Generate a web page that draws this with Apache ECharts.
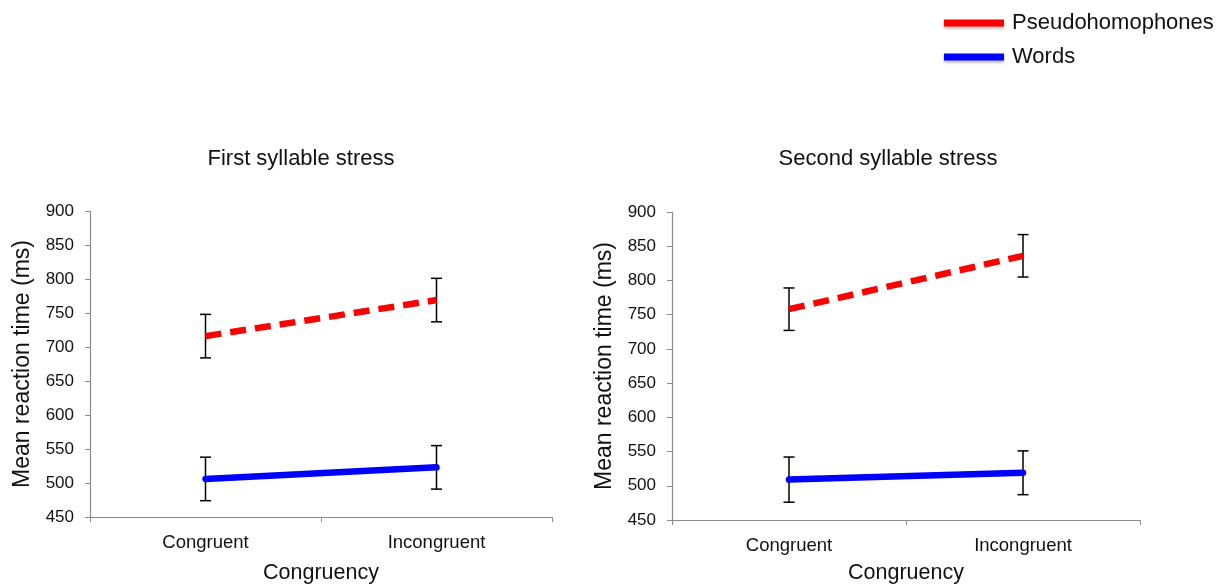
<!DOCTYPE html>
<html>
<head>
<meta charset="utf-8">
<script src="https://cdn.jsdelivr.net/npm/echarts@6/dist/echarts.min.js"></script>
<style>
  html, body { margin: 0; padding: 0; background: #fff; }
  #chart { width: 1222px; height: 587px; }
</style>
</head>
<body>
<div id="chart"></div>
<script>
// Congruency conditions on the x axis
const categories = ['Congruent', 'Incongruent'];
const panelTitles = ['First syllable stress', 'Second syllable stress'];

// Mean reaction times (ms) per panel
const pseudoFirst = [716, 769];
const wordsFirst = [506, 523];
const pseudoSecond = [758, 836];
const wordsSecond = [509, 519];

// Half-width of the error bars (ms)
const pseudoFirstErr = [32, 32];
const wordsFirstErr = [32, 32];
const pseudoSecondErr = [31, 31];
const wordsSecondErr = [33, 32];

const yTicks = { min: 450, max: 900, interval: 50 };

const FONT = '"Liberation Sans", Arial, sans-serif';
const RED = '#ff0000';
const BLUE = '#0000ff';
const TEXT = '#111';

function errData(means, errs) {
  return means.map((m, i) => [i, m - errs[i], m + errs[i]]);
}

function errorBarSeries(idx, means, errs) {
  return {
    type: 'custom',
    xAxisIndex: idx,
    yAxisIndex: idx,
    z: 1,
    silent: true,
    data: errData(means, errs),
    renderItem: function (params, api) {
      const lo = api.coord([api.value(0), api.value(1)]);
      const hi = api.coord([api.value(0), api.value(2)]);
      const w = 5.5;
      const style = { stroke: '#000', lineWidth: 1.5 };
      return {
        type: 'group',
        children: [
          { type: 'line', shape: { x1: lo[0], y1: lo[1], x2: hi[0], y2: hi[1] }, style: style },
          { type: 'line', shape: { x1: lo[0] - w, y1: lo[1], x2: lo[0] + w, y2: lo[1] }, style: style },
          { type: 'line', shape: { x1: hi[0] - w, y1: hi[1], x2: hi[0] + w, y2: hi[1] }, style: style }
        ]
      };
    }
  };
}

function pseudoSeries(idx, data) {
  return {
    name: 'Pseudohomophones',
    type: 'line',
    xAxisIndex: idx,
    yAxisIndex: idx,
    data: data,
    showSymbol: false,
    symbol: 'none',
    z: 3,
    lineStyle: { color: RED, width: 6.5, type: [16, 9], cap: 'butt' },
    itemStyle: { color: RED }
  };
}

function wordsSeries(idx, data) {
  return {
    name: 'Words',
    type: 'line',
    xAxisIndex: idx,
    yAxisIndex: idx,
    data: data,
    showSymbol: false,
    symbol: 'none',
    z: 3,
    lineStyle: { color: BLUE, width: 6.5, cap: 'round' },
    itemStyle: { color: BLUE }
  };
}

const grids = [
  { left: 90, top: 211, width: 462, height: 306, containLabel: false, outerBoundsMode: 'none' },
  { left: 672, top: 212, width: 468, height: 308, containLabel: false, outerBoundsMode: 'none' }
];

function xAxis(idx, nameGap) {
  return {
    type: 'category',
    gridIndex: idx,
    data: categories,
    boundaryGap: true,
    axisLine: { lineStyle: { color: '#8c8c8c', width: 1.2 } },
    axisTick: { show: true, length: 5, lineStyle: { color: '#8c8c8c' } },
    axisLabel: { color: TEXT, fontFamily: FONT, fontSize: 18.5, margin: 16 },
    name: 'Congruency',
    nameLocation: 'middle',
    nameGap: nameGap,
    nameTextStyle: { color: TEXT, fontFamily: FONT, fontSize: 21.5 }
  };
}

function yAxis(idx) {
  return {
    type: 'value',
    gridIndex: idx,
    min: yTicks.min,
    max: yTicks.max,
    interval: yTicks.interval,
    splitLine: { show: false },
    axisLine: { show: true, lineStyle: { color: '#8c8c8c', width: 1.2 } },
    axisTick: { show: true, length: 5, lineStyle: { color: '#8c8c8c' } },
    axisLabel: { color: TEXT, fontFamily: FONT, fontSize: 17, margin: 16 },
    name: 'Mean reaction time (ms)',
    nameLocation: 'middle',
    nameGap: 56,
    nameTextStyle: { color: TEXT, fontFamily: FONT, fontSize: 23 }
  };
}

const chart = echarts.init(document.getElementById('chart'), null, { renderer: 'canvas' });

chart.setOption({
  backgroundColor: '#fff',
  animation: false,
  title: [
    { text: panelTitles[0], left: 296, top: 143, textAlign: 'center',
      textStyle: { color: TEXT, fontFamily: FONT, fontSize: 22, fontWeight: 'normal' } },
    { text: panelTitles[1], left: 883, top: 143, textAlign: 'center',
      textStyle: { color: TEXT, fontFamily: FONT, fontSize: 22, fontWeight: 'normal' } }
  ],
  legend: {
    orient: 'vertical',
    left: 939,
    top: 7,
    itemWidth: 60,
    itemHeight: 7,
    itemGap: 12,
    icon: 'rect',
    data: [
      { name: 'Pseudohomophones', itemStyle: { color: RED, shadowColor: 'rgba(0,0,0,0.3)', shadowBlur: 3, shadowOffsetY: 2 } },
      { name: 'Words', itemStyle: { color: BLUE, shadowColor: 'rgba(0,0,0,0.3)', shadowBlur: 3, shadowOffsetY: 2 } }
    ],
    textStyle: { color: TEXT, fontFamily: FONT, fontSize: 22, padding: [0, 0, 0, 3] },
    selectedMode: false
  },
  grid: grids,
  xAxis: [xAxis(0, 45), xAxis(1, 42)],
  yAxis: [yAxis(0), yAxis(1)],
  series: [
    errorBarSeries(0, pseudoFirst, pseudoFirstErr),
    errorBarSeries(0, wordsFirst, wordsFirstErr),
    errorBarSeries(1, pseudoSecond, pseudoSecondErr),
    errorBarSeries(1, wordsSecond, wordsSecondErr),
    pseudoSeries(0, pseudoFirst),
    wordsSeries(0, wordsFirst),
    pseudoSeries(1, pseudoSecond),
    wordsSeries(1, wordsSecond)
  ]
});
</script>
</body>
</html>
